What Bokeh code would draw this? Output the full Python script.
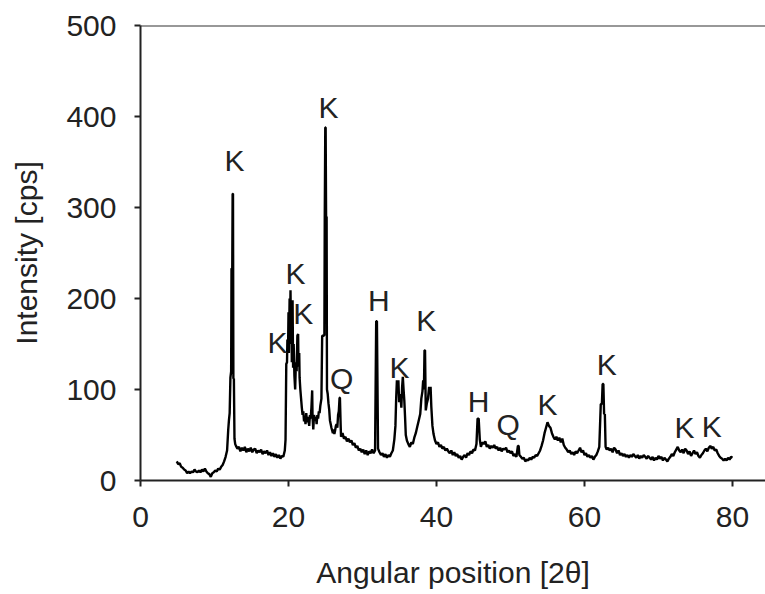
from bokeh.plotting import figure
from bokeh.models import Range1d, FixedTicker, Span, ColumnDataSource
from bokeh.core.properties import value
from bokeh.embed import file_html
from bokeh.resources import INLINE

# ---- data (2θ, intensity in cps) ----
pts = [
    (4.9, 21), (5.1, 18), (5.3, 19), (5.5, 15), (5.7, 14), (5.9, 12), (6.1, 11), (6.3, 8),
    (6.5, 10), (6.7, 8), (6.9, 10), (7.1, 9), (7.3, 12), (7.5, 10), (7.7, 9), (7.9, 11),
    (8.1, 9), (8.3, 12), (8.5, 10), (8.7, 13), (8.9, 10), (9.1, 8), (9.3, 7), (9.5, 4),
    (9.7, 8), (9.9, 9), (10.1, 11), (10.3, 10), (10.5, 13), (10.7, 12), (10.9, 15), (11.1, 17),
    (11.3, 21), (11.5, 26), (11.7, 33), (11.85, 55), (11.95, 66), (12.05, 74), (12.15, 113),
    (12.25, 120), (12.3, 233), (12.4, 233), (12.45, 315), (12.5, 315), (12.55, 112), (12.62, 112),
    (12.7, 46), (12.8, 40),
    (12.9, 38), (13.1, 35), (13.3, 37), (13.5, 32), (13.7, 36), (13.9, 33), (14.1, 37), (14.3, 31),
    (14.5, 35), (14.7, 32), (14.9, 36), (15.1, 31), (15.3, 34), (15.5, 35), (15.7, 30), (15.9, 33),
    (16.1, 31), (16.3, 34), (16.5, 29), (16.7, 32), (16.9, 30), (17.1, 33), (17.3, 28), (17.5, 31),
    (17.7, 27), (17.9, 30), (18.1, 26), (18.3, 29), (18.5, 25), (18.7, 28), (18.9, 24), (19.1, 27),
    (19.3, 26), (19.5, 33),
    (19.6, 45), (19.7, 128), (19.8, 130), (19.85, 155), (19.95, 150), (20.0, 185), (20.05, 140),
    (20.15, 200), (20.2, 160), (20.27, 209), (20.35, 150), (20.4, 195), (20.45, 130), (20.55, 198),
    (20.62, 124), (20.7, 150), (20.8, 115), (20.9, 100), (21.0, 130), (21.1, 120), (21.2, 159),
    (21.3, 161), (21.35, 125), (21.45, 140), (21.5, 113), (21.6, 100), (21.7, 90), (21.8, 80),
    (21.9, 72), (22.0, 76), (22.1, 65), (22.2, 70), (22.3, 62), (22.4, 74), (22.5, 64), (22.6, 70),
    (22.7, 66), (22.8, 60), (22.9, 72), (23.0, 68), (23.1, 80), (23.2, 99), (23.25, 70), (23.35, 56),
    (23.45, 72), (23.6, 66), (23.7, 70), (23.8, 62), (23.9, 72), (24.0, 68), (24.1, 76), (24.2, 74),
    (24.3, 82), (24.45, 90), (24.55, 159), (24.75, 159), (24.85, 160), (24.9, 290), (24.97, 388),
    (25.02, 388), (25.08, 290), (25.15, 290), (25.2, 100), (25.3, 95), (25.4, 85), (25.5, 78),
    (25.6, 66), (25.7, 62), (25.8, 58), (25.9, 55), (26.0, 52), (26.1, 56), (26.2, 51), (26.3, 55),
    (26.4, 60), (26.5, 62), (26.6, 58), (26.7, 72), (26.8, 76), (26.9, 91), (26.95, 91), (27.05, 60),
    (27.1, 48), (27.3, 52), (27.5, 46), (27.7, 48), (27.9, 43), (28.1, 46), (28.3, 42), (28.5, 44),
    (28.7, 39), (28.9, 41), (29.1, 36), (29.3, 38), (29.5, 33), (29.7, 35), (29.9, 31), (30.1, 34),
    (30.3, 29), (30.5, 33), (30.7, 28), (30.9, 32), (31.1, 30), (31.3, 34), (31.5, 30), (31.7, 33),
    (31.85, 175), (31.95, 175), (32.1, 35), (32.3, 31), (32.5, 28), (32.7, 30), (32.9, 26), (33.1, 29),
    (33.3, 25), (33.5, 28), (33.7, 26), (33.9, 30), (34.1, 33), (34.3, 45), (34.45, 60), (34.55, 90),
    (34.65, 110), (34.75, 96), (34.85, 110), (34.95, 86), (35.05, 95), (35.15, 91), (35.25, 80),
    (35.35, 102), (35.45, 114), (35.55, 100), (35.65, 88), (35.75, 70), (35.85, 50), (36.0, 44),
    (36.2, 40), (36.4, 37), (36.6, 42), (36.8, 40), (37.0, 47), (37.2, 52), (37.4, 59), (37.6, 66),
    (37.8, 73), (37.95, 90), (38.1, 98), (38.2, 110), (38.3, 100), (38.38, 143), (38.45, 143),
    (38.55, 77), (38.7, 85), (38.85, 90), (39.0, 103), (39.1, 96), (39.2, 103), (39.3, 81),
    (39.45, 60), (39.6, 51), (39.8, 44), (40.0, 40), (40.2, 42), (40.4, 37), (40.6, 39), (40.8, 35),
    (41.0, 37), (41.2, 33), (41.4, 35), (41.6, 32), (41.8, 30), (42.0, 33), (42.2, 28), (42.4, 31),
    (42.6, 27), (42.8, 29), (43.0, 25), (43.2, 27), (43.4, 23), (43.6, 26), (43.8, 28), (44.0, 25),
    (44.2, 30), (44.4, 28), (44.6, 32), (44.8, 30), (45.0, 34), (45.2, 33), (45.4, 40), (45.55, 68),
    (45.7, 68), (45.85, 45), (46.0, 37), (46.2, 42), (46.4, 40), (46.6, 43), (46.8, 37), (47.0, 39),
    (47.2, 35), (47.4, 38), (47.6, 36), (47.8, 39), (48.0, 35), (48.2, 37), (48.4, 33), (48.6, 36),
    (48.8, 32), (49.0, 35), (49.2, 34), (49.4, 36), (49.6, 31), (49.8, 33), (50.0, 30), (50.2, 32),
    (50.4, 27), (50.6, 29), (50.8, 26), (51.0, 38), (51.1, 38), (51.2, 28), (51.4, 26), (51.6, 24),
    (51.8, 25), (52.0, 21), (52.2, 23), (52.4, 22), (52.6, 25), (52.8, 23), (53.0, 26), (53.2, 25),
    (53.4, 28), (53.6, 27), (53.8, 30), (54.0, 33), (54.2, 38), (54.4, 44), (54.6, 52), (54.8, 58),
    (55.0, 64), (55.2, 60), (55.4, 58), (55.6, 52), (55.8, 48), (56.0, 45), (56.2, 48), (56.4, 44),
    (56.6, 47), (56.8, 42), (57.0, 46), (57.2, 39), (57.4, 36), (57.6, 34), (57.8, 31), (58.0, 33),
    (58.2, 29), (58.4, 31), (58.6, 28), (58.8, 32), (59.0, 30), (59.2, 33), (59.4, 36), (59.6, 31),
    (59.8, 33), (60.0, 28), (60.2, 30), (60.4, 26), (60.6, 28), (60.8, 25), (61.0, 27), (61.2, 23),
    (61.4, 26), (61.6, 28), (61.8, 32), (62.0, 37), (62.2, 84), (62.35, 84), (62.45, 106),
    (62.55, 106), (62.65, 73), (62.75, 73), (62.85, 37), (63.0, 34), (63.2, 36), (63.4, 33),
    (63.6, 35), (63.8, 31), (64.0, 36), (64.2, 34), (64.4, 30), (64.6, 33), (64.8, 28), (65.0, 30),
    (65.2, 27), (65.4, 29), (65.6, 26), (65.8, 28), (66.0, 25), (66.2, 28), (66.4, 26), (66.6, 29),
    (66.8, 27), (67.0, 25), (67.2, 28), (67.4, 24), (67.6, 27), (67.8, 25), (68.0, 28), (68.2, 26),
    (68.4, 24), (68.6, 27), (68.8, 25), (69.0, 23), (69.2, 26), (69.4, 22), (69.6, 25), (69.8, 23),
    (70.0, 27), (70.2, 24), (70.4, 26), (70.6, 22), (70.8, 25), (71.0, 23), (71.2, 21), (71.4, 24),
    (71.6, 26), (71.8, 29), (72.0, 27), (72.2, 31), (72.4, 34), (72.6, 37), (72.8, 33), (73.0, 31),
    (73.2, 34), (73.4, 30), (73.6, 35), (73.8, 33), (74.0, 29), (74.2, 32), (74.4, 27), (74.6, 30),
    (74.8, 33), (75.0, 29), (75.2, 31), (75.4, 27), (75.6, 25), (75.8, 28), (76.0, 30), (76.2, 33),
    (76.4, 35), (76.6, 32), (76.8, 36), (77.0, 38), (77.2, 35), (77.4, 37), (77.6, 33), (77.8, 34),
    (78.0, 30), (78.2, 27), (78.4, 25), (78.6, 24), (78.8, 22), (79.0, 24), (79.2, 22), (79.4, 25),
    (79.6, 23), (79.8, 26), (80.0, 25),
]
two_theta = [p[0] for p in pts]
intensity = [p[1] for p in pts]

label_text = ["K", "K", "K", "K", "K", "Q", "H", "K", "K", "H", "Q", "K", "K", "K", "K"]
label_x = [12.7, 25.4, 20.95, 18.5, 22.0, 27.2, 32.2, 35.0, 38.6, 45.7, 49.7, 55.0, 63.0, 73.5, 77.2]
label_y = [352, 410, 227, 152, 183, 112, 198, 124, 176, 87, 62, 84, 127, 58, 59]

x_ticks = [0, 20, 40, 60, 80]
y_ticks = [0, 100, 200, 300, 400, 500]

FONT = "Liberation Sans"
TXT = "#222222"

p = figure(frame_width=625, frame_height=455, min_border_left=140, min_border_right=0,
           min_border_top=25, min_border_bottom=114,
           x_range=Range1d(0, 84.46), y_range=Range1d(0, 500),
           output_backend="svg", toolbar_location=None)

p.line(two_theta, intensity, line_color="black", line_width=2.4)

src = ColumnDataSource(dict(x=label_x, y=label_y, t=label_text))
p.text(x="x", y="y", text="t", source=src, text_font=value(FONT), text_font_size="30px",
       text_align="center", text_baseline="middle", text_color=TXT)

p.add_layout(Span(location=500, dimension="width", line_color="#333333", line_width=2))

p.xgrid.visible = False
p.ygrid.visible = False
p.outline_line_color = None
p.background_fill_color = "white"
p.border_fill_color = "white"

for ax, ticks in ((p.xaxis[0], x_ticks), (p.yaxis[0], y_ticks)):
    ax.ticker = FixedTicker(ticks=ticks)
    ax.minor_tick_line_color = None
    ax.major_tick_in = 0
    ax.major_tick_out = 6
    ax.axis_line_width = 2
    ax.major_tick_line_width = 2
    ax.axis_line_color = "#222222"
    ax.major_tick_line_color = "#222222"
    ax.major_label_text_font = FONT
    ax.major_label_text_font_size = "30px"
    ax.major_label_text_color = TXT
    ax.axis_label_text_font = FONT
    ax.axis_label_text_font_size = "30px"
    ax.axis_label_text_font_style = "normal"
    ax.axis_label_text_color = TXT

p.xaxis.axis_label = "Angular position [2θ]"
p.yaxis.axis_label = "Intensity [cps]"
p.xaxis.major_label_standoff = 20
p.yaxis.major_label_standoff = 18
p.xaxis.axis_label_standoff = 26
p.yaxis.axis_label_standoff = 20

open("out.html", "w").write(file_html(p, INLINE))
